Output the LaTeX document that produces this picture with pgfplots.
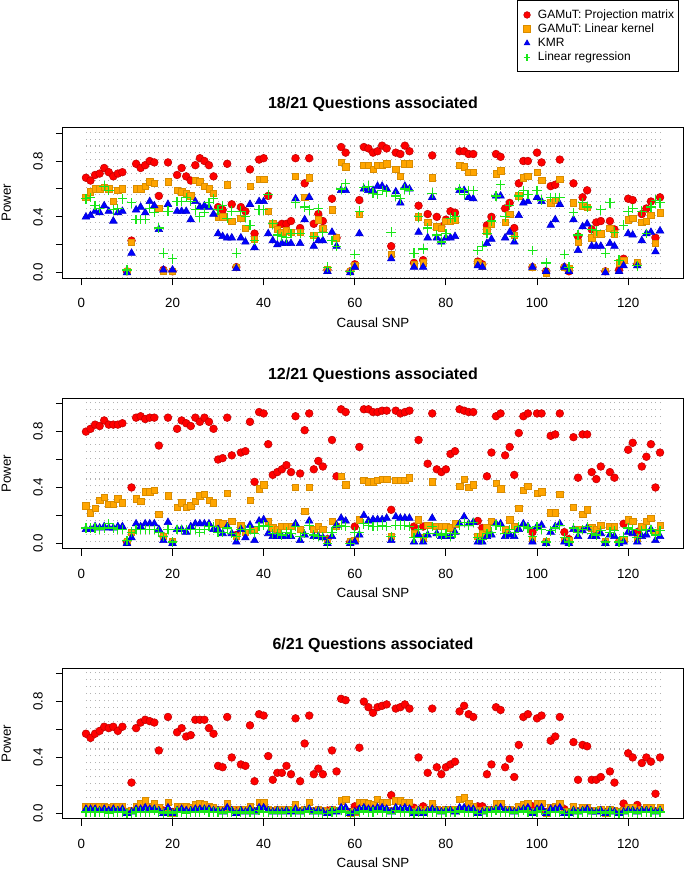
\documentclass[border=0pt]{standalone}
\usepackage{fontspec}
\setmainfont{Liberation Sans}
\usepackage{pgfplots}
\usepackage{pgfplotstable}
\pgfplotsset{compat=1.18}

\definecolor{rorange}{RGB}{255,165,0}
\definecolor{rgreen}{RGB}{25,230,25}

% power per causal SNP: projection matrix, linear kernel, KMR, linear regression
\pgfplotstableread{
k pm lk kmr lr
1 0.68 0.54 0.40 0.53
2 0.66 0.58 0.41 0.54
3 0.70 0.60 0.44 0.48
4 0.71 0.60 0.43 0.46
5 0.75 0.61 0.48 0.62
6 0.72 0.60 0.44 0.59
7 0.69 0.51 0.37 0.45
8 0.71 0.59 0.43 0.46
9 0.72 0.60 0.44 0.53
10 0.01 0.01 0.00 0.02
11 0.23 0.22 0.14 0.50
12 0.78 0.60 0.45 0.38
13 0.75 0.60 0.47 0.38
14 0.77 0.62 0.43 0.38
15 0.80 0.65 0.51 0.46
16 0.79 0.64 0.48 0.43
17 0.55 0.46 0.31 0.32
18 0.02 0.01 0.02 0.14
19 0.79 0.65 0.49 0.44
20 0.01 0.01 0.02 0.10
21 0.70 0.59 0.44 0.51
22 0.75 0.58 0.44 0.51
23 0.69 0.57 0.44 0.54
24 0.66 0.55 0.38 0.51
25 0.77 0.66 0.51 0.45
26 0.82 0.65 0.47 0.40
27 0.80 0.62 0.48 0.43
28 0.77 0.60 0.47 0.50
29 0.69 0.57 0.42 0.53
30 0.47 0.40 0.28 0.45
31 0.45 0.40 0.26 0.48
32 0.78 0.63 0.25 0.39
33 0.49 0.37 0.25 0.44
34 0.04 0.04 0.03 0.14
35 0.47 0.39 0.25 0.44
36 0.44 0.32 0.22 0.40
37 0.74 0.62 0.49 0.34
38 0.28 0.24 0.18 0.23
39 0.81 0.67 0.51 0.45
40 0.82 0.67 0.51 0.45
41 0.55 0.44 0.28 0.56
42 0.35 0.35 0.23 0.35
43 0.33 0.31 0.20 0.27
44 0.35 0.29 0.21 0.26
45 0.35 0.30 0.21 0.25
46 0.37 0.29 0.21 0.28
47 0.82 0.69 0.53 0.50
48 0.32 0.29 0.21 0.28
49 0.64 0.54 0.38 0.47
50 0.82 0.68 0.54 0.45
51 0.35 0.27 0.19 0.26
52 0.42 0.38 0.23 0.46
53 0.37 0.32 0.23 0.29
54 0.02 0.02 0.01 0.04
55 0.53 0.45 0.29 0.23
56 0.25 0.25 0.19 0.19
57 0.90 0.79 0.59 0.60
58 0.86 0.76 0.59 0.64
59 0.01 0.01 0.00 0.01
60 0.06 0.05 0.04 0.13
61 0.52 0.42 0.28 0.44
62 0.90 0.77 0.60 0.61
63 0.89 0.77 0.59 0.62
64 0.86 0.74 0.59 0.57
65 0.87 0.77 0.62 0.56
66 0.91 0.77 0.62 0.59
67 0.89 0.78 0.60 0.58
68 0.19 0.13 0.10 0.29
69 0.86 0.74 0.58 0.55
70 0.85 0.69 0.50 0.53
71 0.91 0.78 0.62 0.60
72 0.87 0.78 0.60 0.59
73 0.07 0.06 0.04 0.14
74 0.48 0.40 0.29 0.40
75 0.09 0.07 0.04 0.17
76 0.42 0.36 0.25 0.32
77 0.84 0.68 0.54 0.57
78 0.40 0.33 0.25 0.27
79 0.33 0.32 0.22 0.22
80 0.38 0.37 0.25 0.28
81 0.44 0.37 0.25 0.39
82 0.43 0.38 0.26 0.40
83 0.87 0.77 0.59 0.60
84 0.87 0.76 0.59 0.56
85 0.85 0.72 0.54 0.59
86 0.85 0.72 0.53 0.59
87 0.08 0.07 0.05 0.16
88 0.06 0.05 0.04 0.19
89 0.34 0.30 0.21 0.28
90 0.40 0.35 0.24 0.37
91 0.85 0.71 0.55 0.55
92 0.83 0.73 0.55 0.63
93 0.46 0.36 0.25 0.40
94 0.50 0.42 0.29 0.48
95 0.32 0.27 0.22 0.26
96 0.64 0.55 0.41 0.55
97 0.80 0.68 0.50 0.59
98 0.80 0.69 0.51 0.56
99 0.04 0.04 0.04 0.16
100 0.86 0.72 0.54 0.59
101 0.79 0.66 0.51 0.52
102 0.01 0.00 0.01 0.07
103 0.62 0.50 0.34 0.54
104 0.63 0.52 0.38 0.54
105 0.81 0.67 0.49 0.54
106 0.04 0.04 0.04 0.13
107 0.01 0.03 0.01 0.04
108 0.64 0.50 0.38 0.43
109 0.26 0.22 0.16 0.27
110 0.54 0.48 0.33 0.50
111 0.59 0.47 0.35 0.47
112 0.31 0.25 0.19 0.31
113 0.36 0.28 0.19 0.30
114 0.37 0.28 0.19 0.45
115 0.01 0.01 0.00 0.14
116 0.37 0.32 0.21 0.50
117 0.31 0.28 0.19 0.29
118 0.02 0.07 0.01 0.09
119 0.10 0.09 0.05 0.34
120 0.53 0.38 0.28 0.44
121 0.52 0.39 0.27 0.46
122 0.06 0.07 0.05 0.05
123 0.42 0.36 0.23 0.44
124 0.46 0.37 0.28 0.28
125 0.51 0.41 0.29 0.47
126 0.25 0.21 0.15 0.52
127 0.54 0.43 0.30 0.50
}\tabA

\pgfplotstableread{
k pm lk kmr lr
1 0.80 0.27 0.10 0.11
2 0.82 0.22 0.10 0.11
3 0.85 0.25 0.12 0.11
4 0.84 0.31 0.11 0.10
5 0.88 0.33 0.12 0.11
6 0.85 0.28 0.11 0.14
7 0.85 0.28 0.11 0.11
8 0.85 0.32 0.12 0.10
9 0.86 0.29 0.12 0.10
10 0.01 0.01 0.00 0.02
11 0.40 0.08 0.04 0.08
12 0.90 0.32 0.14 0.10
13 0.91 0.30 0.12 0.10
14 0.89 0.37 0.14 0.10
15 0.90 0.37 0.14 0.10
16 0.90 0.38 0.14 0.10
17 0.70 0.21 0.10 0.08
18 0.05 0.05 0.02 0.05
19 0.90 0.34 0.15 0.10
20 0.01 0.01 0.00 0.01
21 0.82 0.26 0.10 0.10
22 0.88 0.29 0.10 0.10
23 0.86 0.26 0.08 0.10
24 0.84 0.27 0.12 0.10
25 0.90 0.30 0.14 0.10
26 0.87 0.34 0.14 0.08
27 0.90 0.35 0.14 0.10
28 0.87 0.31 0.14 0.12
29 0.82 0.29 0.10 0.12
30 0.60 0.15 0.10 0.08
31 0.61 0.14 0.07 0.08
32 0.90 0.36 0.12 0.11
33 0.63 0.16 0.07 0.07
34 0.06 0.05 0.01 0.05
35 0.65 0.13 0.10 0.10
36 0.66 0.08 0.04 0.10
37 0.87 0.31 0.13 0.10
38 0.44 0.10 0.02 0.07
39 0.94 0.39 0.16 0.12
40 0.93 0.42 0.17 0.13
41 0.71 0.16 0.07 0.12
42 0.49 0.11 0.05 0.07
43 0.51 0.10 0.05 0.07
44 0.53 0.12 0.05 0.06
45 0.56 0.12 0.05 0.08
46 0.51 0.12 0.05 0.07
47 0.91 0.40 0.14 0.12
48 0.50 0.10 0.02 0.05
49 0.81 0.23 0.06 0.07
50 0.93 0.40 0.16 0.13
51 0.53 0.10 0.05 0.06
52 0.59 0.12 0.05 0.05
53 0.55 0.10 0.04 0.05
54 0.03 0.01 0.00 0.00
55 0.74 0.16 0.05 0.08
56 0.48 0.12 0.13 0.12
57 0.96 0.48 0.18 0.13
58 0.94 0.42 0.16 0.12
59 0.01 0.01 0.00 0.00
60 0.12 0.02 0.01 0.08
61 0.69 0.17 0.06 0.08
62 0.96 0.45 0.20 0.14
63 0.96 0.44 0.16 0.13
64 0.94 0.44 0.17 0.12
65 0.94 0.45 0.17 0.12
66 0.95 0.46 0.17 0.13
67 0.95 0.46 0.18 0.12
68 0.24 0.05 0.02 0.05
69 0.95 0.45 0.19 0.13
70 0.93 0.45 0.18 0.13
71 0.94 0.45 0.18 0.13
72 0.95 0.47 0.18 0.12
73 0.12 0.07 0.01 0.04
74 0.74 0.17 0.06 0.10
75 0.12 0.04 0.01 0.04
76 0.57 0.13 0.06 0.07
77 0.93 0.44 0.18 0.12
78 0.53 0.12 0.07 0.07
79 0.51 0.12 0.05 0.06
80 0.53 0.12 0.05 0.07
81 0.64 0.11 0.05 0.05
82 0.66 0.14 0.08 0.07
83 0.96 0.41 0.14 0.13
84 0.95 0.46 0.19 0.15
85 0.94 0.40 0.14 0.13
86 0.94 0.42 0.15 0.15
87 0.16 0.05 0.01 0.04
88 0.11 0.07 0.01 0.03
89 0.48 0.11 0.05 0.07
90 0.65 0.16 0.06 0.08
91 0.91 0.43 0.14 0.13
92 0.93 0.39 0.14 0.12
93 0.63 0.10 0.05 0.07
94 0.69 0.17 0.06 0.10
95 0.49 0.12 0.05 0.08
96 0.79 0.25 0.10 0.12
97 0.91 0.38 0.14 0.12
98 0.93 0.41 0.12 0.11
99 0.08 0.03 0.01 0.05
100 0.93 0.36 0.12 0.12
101 0.93 0.37 0.13 0.10
102 0.01 0.01 0.00 0.01
103 0.77 0.22 0.08 0.09
104 0.78 0.22 0.12 0.11
105 0.93 0.35 0.14 0.13
106 0.08 0.02 0.01 0.04
107 0.03 0.02 0.00 0.01
108 0.76 0.26 0.10 0.11
109 0.47 0.10 0.05 0.08
110 0.78 0.21 0.09 0.10
111 0.78 0.24 0.11 0.12
112 0.51 0.11 0.05 0.07
113 0.46 0.10 0.05 0.06
114 0.55 0.13 0.07 0.09
115 0.01 0.01 0.00 0.01
116 0.51 0.12 0.06 0.08
117 0.47 0.12 0.05 0.09
118 0.01 0.02 0.00 0.01
119 0.14 0.03 0.01 0.05
120 0.67 0.17 0.08 0.11
121 0.72 0.16 0.07 0.10
122 0.08 0.04 0.01 0.04
123 0.55 0.12 0.05 0.09
124 0.62 0.16 0.06 0.10
125 0.71 0.18 0.10 0.10
126 0.40 0.08 0.02 0.06
127 0.65 0.13 0.05 0.09
}\tabB

\pgfplotstableread{
k pm lk kmr lr
1 0.57 0.05 0.03 0.01
2 0.54 0.05 0.03 0.01
3 0.57 0.05 0.03 0.01
4 0.59 0.05 0.02 0.01
5 0.62 0.05 0.03 0.01
6 0.61 0.04 0.02 0.00
7 0.62 0.05 0.03 0.01
8 0.59 0.05 0.02 0.01
9 0.62 0.05 0.03 0.01
10 0.01 0.01 0.00 0.00
11 0.22 0.02 0.01 0.00
12 0.61 0.05 0.03 0.01
13 0.65 0.07 0.03 0.01
14 0.67 0.09 0.04 0.01
15 0.66 0.05 0.03 0.01
16 0.65 0.07 0.03 0.02
17 0.45 0.04 0.02 0.01
18 0.02 0.01 0.00 0.00
19 0.69 0.08 0.04 0.01
20 0.01 0.00 0.00 0.00
21 0.58 0.05 0.02 0.01
22 0.61 0.05 0.03 0.01
23 0.55 0.05 0.02 0.00
24 0.56 0.04 0.02 0.01
25 0.67 0.06 0.03 0.01
26 0.67 0.07 0.03 0.01
27 0.67 0.06 0.03 0.02
28 0.61 0.05 0.03 0.01
29 0.57 0.04 0.02 0.01
30 0.34 0.03 0.02 0.01
31 0.33 0.03 0.01 0.00
32 0.69 0.07 0.04 0.01
33 0.40 0.03 0.02 0.01
34 0.02 0.01 0.00 0.00
35 0.35 0.03 0.02 0.01
36 0.34 0.03 0.01 0.00
37 0.63 0.05 0.03 0.01
38 0.23 0.02 0.01 0.00
39 0.71 0.08 0.04 0.02
40 0.70 0.08 0.04 0.01
41 0.41 0.03 0.02 0.01
42 0.24 0.02 0.01 0.00
43 0.29 0.03 0.02 0.01
44 0.29 0.03 0.01 0.00
45 0.34 0.03 0.02 0.01
46 0.28 0.03 0.01 0.01
47 0.68 0.06 0.03 0.01
48 0.23 0.02 0.01 0.00
49 0.50 0.03 0.02 0.01
50 0.70 0.08 0.03 0.02
51 0.28 0.02 0.01 0.00
52 0.32 0.03 0.02 0.01
53 0.28 0.02 0.01 0.00
54 0.02 0.01 0.00 0.00
55 0.45 0.03 0.02 0.01
56 0.30 0.02 0.01 0.01
57 0.82 0.09 0.04 0.02
58 0.81 0.10 0.04 0.01
59 0.01 0.00 0.00 0.00
60 0.05 0.01 0.01 0.00
61 0.47 0.08 0.03 0.01
62 0.80 0.08 0.04 0.02
63 0.76 0.07 0.03 0.01
64 0.72 0.06 0.03 0.01
65 0.76 0.10 0.04 0.02
66 0.77 0.08 0.04 0.01
67 0.78 0.08 0.03 0.01
68 0.13 0.02 0.01 0.00
69 0.75 0.09 0.04 0.02
70 0.76 0.09 0.03 0.01
71 0.78 0.08 0.04 0.01
72 0.75 0.08 0.03 0.01
73 0.04 0.01 0.00 0.00
74 0.40 0.03 0.02 0.01
75 0.05 0.01 0.00 0.00
76 0.29 0.03 0.02 0.01
77 0.75 0.07 0.03 0.01
78 0.33 0.03 0.02 0.01
79 0.28 0.02 0.01 0.00
80 0.33 0.03 0.02 0.01
81 0.35 0.03 0.02 0.01
82 0.37 0.03 0.01 0.01
83 0.73 0.10 0.04 0.02
84 0.77 0.11 0.04 0.01
85 0.71 0.07 0.03 0.01
86 0.69 0.05 0.03 0.01
87 0.05 0.02 0.00 0.00
88 0.05 0.02 0.01 0.00
89 0.28 0.03 0.02 0.01
90 0.35 0.03 0.02 0.01
91 0.76 0.07 0.03 0.02
92 0.74 0.07 0.04 0.01
93 0.33 0.03 0.02 0.01
94 0.39 0.03 0.02 0.01
95 0.26 0.02 0.01 0.00
96 0.49 0.05 0.02 0.01
97 0.69 0.06 0.03 0.02
98 0.71 0.07 0.04 0.01
99 0.05 0.01 0.00 0.00
100 0.68 0.07 0.03 0.01
101 0.70 0.07 0.04 0.02
102 0.01 0.00 0.00 0.00
103 0.52 0.04 0.03 0.01
104 0.55 0.05 0.03 0.01
105 0.69 0.07 0.04 0.01
106 0.03 0.01 0.00 0.00
107 0.01 0.01 0.00 0.00
108 0.51 0.05 0.02 0.01
109 0.24 0.02 0.01 0.00
110 0.49 0.04 0.02 0.01
111 0.48 0.04 0.03 0.01
112 0.24 0.02 0.01 0.00
113 0.24 0.02 0.01 0.01
114 0.26 0.03 0.02 0.01
115 0.01 0.00 0.00 0.00
116 0.30 0.03 0.02 0.01
117 0.22 0.02 0.01 0.00
118 0.01 0.01 0.00 0.00
119 0.07 0.02 0.01 0.00
120 0.43 0.04 0.02 0.01
121 0.40 0.04 0.02 0.01
122 0.06 0.02 0.01 0.00
123 0.36 0.03 0.02 0.01
124 0.40 0.04 0.02 0.01
125 0.37 0.04 0.02 0.01
126 0.14 0.02 0.01 0.00
127 0.40 0.04 0.02 0.01
}\tabC

\pgfplotsset{
  snp/.style={
    scale only axis, width=465pt, height=113.1pt,
    xmin=-4.04, xmax=132.04, ymin=-0.04, ymax=1.04,
    xtick={0,20,...,120}, xticklabels={0,20,40,60,80,100,120},
    ytick={0,0.2,...,1}, yticklabels={0.0,,0.4,,0.8,},
    minor xtick={1,...,127}, xminorgrids,
    minor x grid style={black!30, line width=0.6pt, dash pattern=on 0.8pt off 4.4pt},
    minor tick length=0pt,
    tick pos=left, tick align=outside, major tick length=5.25pt,
    every tick/.style={black, line width=0.75pt},
    axis line style={line width=0.75pt},
    tick label style={font=\fontsize{10}{12}\selectfont},
    xticklabel style={anchor=base}, xticklabel shift=17pt,
    yticklabel style={rotate=90, anchor=base}, yticklabel shift=10pt,
    label style={font=\fontsize{10}{12}\selectfont},
    xlabel={Causal SNP}, ylabel={Power},
    xlabel style={at={(axis description cs:0.5,-0.323)}, anchor=base},
    ylabel style={at={(axis description cs:-0.0839,0.5)}, anchor=base},
    title style={at={(axis description cs:0.5,1.124)}, anchor=base, yshift=-6pt,
      font=\bfseries\fontsize{12}{14}\selectfont},
  },
  pmstyle/.style={only marks, mark=*, mark size=2.9pt, draw=red!75!black, fill=red, mark options={line width=0.4pt}},
  lkstyle/.style={only marks, mark=square*, mark size=2.4pt, draw=rorange!85!black, fill=rorange, mark options={line width=0.4pt}},
  kmrstyle/.style={only marks, mark=triangle*, mark size=3.3pt, draw=blue!80!black, fill=blue, mark options={line width=0.4pt}},
  lrstyle/.style={only marks, mark=+, mark size=3.6pt, draw=rgreen, mark options={line width=0.9pt}},
}

\begin{document}
\begin{tikzpicture}
\useasboundingbox (0,0) rectangle (513.75pt,653.25pt);

\begin{axis}[snp, at={(47.25pt,444.525pt)}, anchor=south west,
  title={18/21 Questions associated},
  legend cell align=left,
  legend image code/.code={\path[draw=none, fill=none] (0pt,-2pt) rectangle (12.6pt,2pt);
    \draw[#1, mark size=2.5pt] plot coordinates {(5pt,0pt)};},
  legend style={at={(axis description cs:0.993,1.8455)}, anchor=north east,
    draw=black, line width=0.75pt, font=\fontsize{9}{10}\selectfont,
    inner xsep=2.5pt, inner ysep=6pt, row sep=0.9pt, column sep=0pt,
    nodes={inner sep=0.6pt, text height=6.6pt, text depth=1.9pt}}]
\addplot[pmstyle] table[x=k, y=pm] {\tabA};
\addplot[lkstyle] table[x=k, y=lk] {\tabA};
\addplot[kmrstyle] table[x=k, y=kmr] {\tabA};
\addplot[lrstyle] table[x=k, y=lr] {\tabA};
\legend{GAMuT: Projection matrix, GAMuT: Linear kernel, KMR, Linear regression}
\end{axis}

\begin{axis}[snp, at={(47.25pt,241.575pt)}, anchor=south west,
  title={12/21 Questions associated}]
\addplot[pmstyle] table[x=k, y=pm] {\tabB};
\addplot[lkstyle] table[x=k, y=lk] {\tabB};
\addplot[kmrstyle] table[x=k, y=kmr] {\tabB};
\addplot[lrstyle] table[x=k, y=lr] {\tabB};
\end{axis}

\begin{axis}[snp, at={(47.25pt,39.075pt)}, anchor=south west,
  title={6/21 Questions associated}]
\addplot[pmstyle] table[x=k, y=pm] {\tabC};
\addplot[lkstyle] table[x=k, y=lk] {\tabC};
\addplot[kmrstyle] table[x=k, y=kmr] {\tabC};
\addplot[lrstyle] table[x=k, y=lr] {\tabC};
\end{axis}
\end{tikzpicture}
\end{document}
